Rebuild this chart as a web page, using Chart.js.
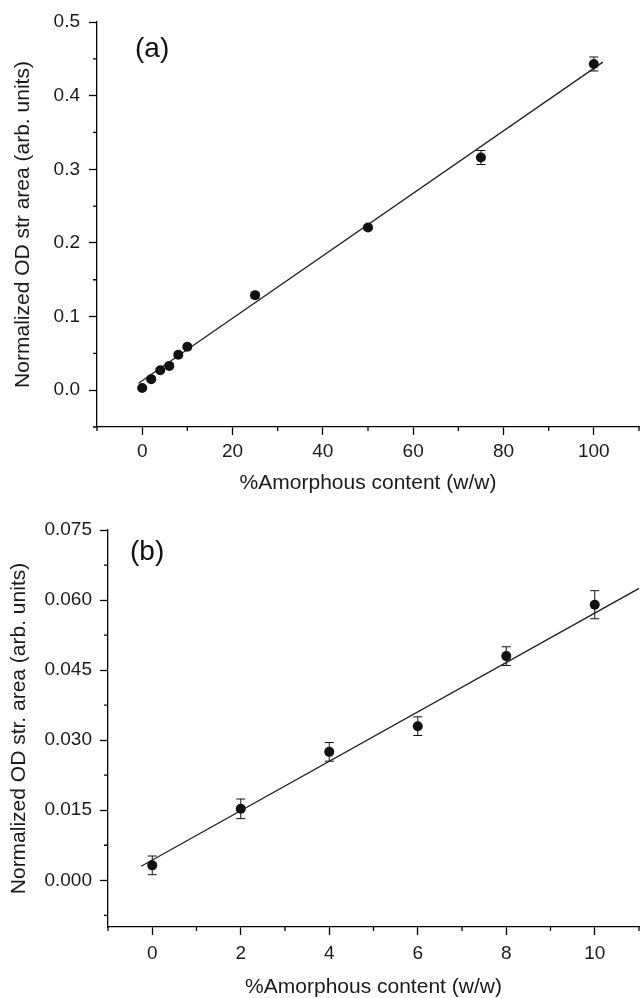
<!DOCTYPE html>
<html>
<head>
<meta charset="utf-8">
<script src="https://cdn.jsdelivr.net/npm/chart.js@4"></script>
<style>
  body { margin: 0; background: #fff; }
  canvas { position: absolute; left: 0; }
  #chartA { top: 0; }
  #chartB { top: 494px; }
</style>
</head>
<body>
<canvas id="chartA" width="644" height="494"></canvas>
<canvas id="chartB" width="644" height="504"></canvas>
<script>
// panel (a): full range
const contentA = [0, 2, 4, 6, 8, 10, 25, 50, 75, 100];
const areaA = [0.003, 0.015, 0.027, 0.033, 0.048, 0.059, 0.129, 0.221, 0.316, 0.443];
const errA = [0.002, 0.002, 0.002, 0.002, 0.002, 0.002, 0.004, 0.003, 0.0095, 0.0095];
const fitXA = [-0.8, 102];
const fitYA = [0.0095, 0.4455];
const xTicksA = [0, 20, 40, 60, 80, 100];
const xMinorA = [-10, 10, 30, 50, 70, 90, 110];
const yTicksA = [0, 0.1, 0.2, 0.3, 0.4, 0.5];
const yMinorA = [-0.05, 0.05, 0.15, 0.25, 0.35, 0.45];

// panel (b): low range
const contentB = [0, 2, 4, 6, 8, 10];
const areaB = [0.0032, 0.0153, 0.0275, 0.033, 0.048, 0.059];
const errB = [0.002, 0.0021, 0.002, 0.002, 0.002, 0.003];
const fitXB = [-0.25, 11];
const fitYB = [0.003, 0.0625];
const xTicksB = [0, 2, 4, 6, 8, 10];
const xMinorB = [-1, 1, 3, 5, 7, 9, 11];
const yTicksB = [0, 0.015, 0.03, 0.045, 0.06, 0.075];
const yMinorB = [-0.0075, 0.0075, 0.0225, 0.0375, 0.0525, 0.0675];

const FONT = '"Liberation Sans", Arial, sans-serif';

// minor ticks, error bars and the panel letter
const extras = {
  id: 'extras',
  beforeDatasetsDraw(chart) {
    const o = chart.options.plugins.extras;
    const ctx = chart.ctx, xs = chart.scales.x, ys = chart.scales.y;
    ctx.save();
    ctx.strokeStyle = '#111';
    ctx.lineWidth = 1;
    o.xs.forEach((x, i) => {
      const px = xs.getPixelForValue(x);
      const top = ys.getPixelForValue(o.ys[i] + o.errs[i]);
      const bot = ys.getPixelForValue(o.ys[i] - o.errs[i]);
      ctx.beginPath();
      ctx.moveTo(px, top); ctx.lineTo(px, bot);
      ctx.moveTo(px - 4.5, top); ctx.lineTo(px + 4.5, top);
      ctx.moveTo(px - 4.5, bot); ctx.lineTo(px + 4.5, bot);
      ctx.stroke();
    });
    ctx.restore();
  },
  afterDraw(chart) {
    const o = chart.options.plugins.extras;
    const ctx = chart.ctx, xs = chart.scales.x, ys = chart.scales.y;
    ctx.save();
    ctx.strokeStyle = '#000';
    ctx.lineWidth = 1.3;
    ctx.beginPath();
    o.xMinor.forEach(v => {
      const px = xs.getPixelForValue(v);
      ctx.moveTo(px, xs.top); ctx.lineTo(px, xs.top + 4);
    });
    o.yMinor.forEach(v => {
      const py = ys.getPixelForValue(v);
      ctx.moveTo(ys.right, py); ctx.lineTo(ys.right - 4, py);
    });
    ctx.stroke();
    ctx.fillStyle = '#111';
    ctx.font = '28px ' + FONT;
    ctx.textBaseline = 'middle';
    ctx.fillText(o.label, o.labelX, o.labelY);
    ctx.restore();
  }
};

function makeChart(id, o) {
  return new Chart(document.getElementById(id), {
    type: 'scatter',
    data: {
      datasets: [
        {
          data: o.fitX.map((x, i) => ({ x: x, y: o.fitY[i] })),
          showLine: true,
          borderColor: '#222',
          borderWidth: 1.3,
          pointRadius: 0,
          order: 2
        },
        {
          data: o.xs.map((x, i) => ({ x: x, y: o.ys[i] })),
          pointRadius: 5,
          pointBackgroundColor: '#111',
          pointBorderColor: '#111',
          pointBorderWidth: 0,
          order: 1
        }
      ]
    },
    options: {
      responsive: false,
      animation: false,
      events: [],
      layout: { padding: { top: o.padTop, left: 0, right: 0, bottom: 0 } },
      plugins: {
        legend: { display: false },
        tooltip: { enabled: false },
        extras: o
      },
      scales: {
        x: {
          type: 'linear',
          min: o.xMin,
          max: o.xMax,
          afterBuildTicks: s => { s.ticks = o.xTicks.map(v => ({ value: v })); },
          afterFit: s => { s.height = o.xH; },
          grid: { drawOnChartArea: false, tickLength: 8, color: '#000', tickWidth: 1.3 },
          border: { color: '#000', width: 1.3 },
          ticks: {
            color: '#1a1a1a', padding: o.xTickPad, maxRotation: 0, autoSkip: false,
            font: { size: 19, family: FONT },
            callback: v => String(v)
          },
          title: {
            display: true, text: '%Amorphous content (w/w)', color: '#1a1a1a',
            font: { size: 21, family: FONT, lineHeight: 1 },
            padding: { top: 0, bottom: o.xTitlePad }
          }
        },
        y: {
          type: 'linear',
          min: o.yMin,
          max: o.yMax,
          afterBuildTicks: s => { s.ticks = o.yTicks.map(v => ({ value: v })); },
          afterFit: s => { s.width = o.yW; },
          grid: { drawOnChartArea: false, tickLength: 8, color: '#000', tickWidth: 1.3 },
          border: { color: '#000', width: 1.3 },
          ticks: {
            color: '#1a1a1a', padding: o.yTickPad,
            font: { size: 19, family: FONT },
            callback: v => v.toFixed(o.dec)
          },
          title: {
            display: true, text: o.yTitle, color: '#1a1a1a',
            font: { size: 21, family: FONT, lineHeight: 1 },
            padding: { top: o.yTitlePad, bottom: 0 }
          }
        }
      }
    },
    plugins: [extras]
  });
}

makeChart('chartA', {
  xs: contentA, ys: areaA, errs: errA, fitX: fitXA, fitY: fitYA,
  xTicks: xTicksA, xMinor: xMinorA, yTicks: yTicksA, yMinor: yMinorA,
  xMin: -10, xMax: 110, yMin: -0.05, yMax: 0.5, dec: 1,
  yTitle: 'Normalized OD str area (arb. units)',
  padTop: 22, xH: 67, yW: 97, yTickPad: 9, yTitlePad: 12.5, xTitlePad: 0.5, xTickPad: 5,
  label: '(a)', labelX: 135, labelY: 49
});

makeChart('chartB', {
  xs: contentB, ys: areaB, errs: errB, fitX: fitXB, fitY: fitYB,
  xTicks: xTicksB, xMinor: xMinorB, yTicks: yTicksB, yMinor: yMinorB,
  xMin: -1, xMax: 11, yMin: -0.01, yMax: 0.075, dec: 3,
  yTitle: 'Normalized OD str. area (arb. units)',
  padTop: 36, xH: 71, yW: 108, yTickPad: 8, yTitlePad: 9, xTitlePad: 0, xTickPad: 7,
  label: '(b)', labelX: 130, labelY: 58
});
</script>
</body>
</html>
